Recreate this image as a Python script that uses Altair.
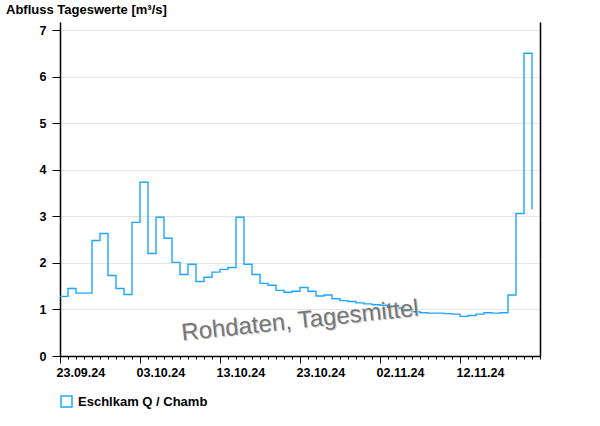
import altair as alt
import pandas as pd

# ---- data -------------------------------------------------------------
start_date = "2024-09-23"
series_name = "Eschlkam Q / Chamb"
values = [
    1.28, 1.45, 1.35, 1.35, 2.48, 2.63, 1.73, 1.45, 1.32, 2.87,
    3.73, 2.20, 2.98, 2.53, 2.01, 1.75, 1.97, 1.60, 1.69, 1.80,
    1.86, 1.90, 2.98, 1.97, 1.75, 1.56, 1.52, 1.41, 1.37, 1.39,
    1.47, 1.39, 1.29, 1.31, 1.23, 1.19, 1.17, 1.14, 1.12, 1.10,
    1.09, 1.07, 1.03, 0.99, 0.95, 0.93, 0.92, 0.92, 0.91, 0.90,
    0.85, 0.87, 0.90, 0.93, 0.92, 0.93, 1.31, 3.06, 6.50, 3.15,
]
dates = [d.strftime("%Y-%m-%d") for d in pd.date_range(start_date, periods=len(values), freq="D")]
x_domain = ["2024-09-23", "2024-11-22"]
major_ticks = ["2024-09-23", "2024-10-03", "2024-10-13", "2024-10-23", "2024-11-02", "2024-11-12"]
y_ticks = [0, 1, 2, 3, 4, 5, 6, 7]
y_max = 7.172
title_text = "Abfluss Tageswerte [m³/s]"
watermark_text = ["Rohdaten, Tagesmittel"]
watermark_date = ["2024-10-23"]
watermark_value = [0.75]

df = pd.DataFrame({"date": dates, "value": values, "series": series_name})
wm = pd.DataFrame({"date": watermark_date, "value": watermark_value, "text": watermark_text})

FONT = "Liberation Sans"
BLUE = "#1EA6FF"


def dt(s):
    y, m, d = (int(p) for p in s.split("-"))
    return alt.DateTime(year=y, month=m, date=d, utc=True)


xscale = alt.Scale(type="utc", domain=[dt(s) for s in x_domain], nice=False)
yscale = alt.Scale(domain=[0, y_max], nice=False, zero=True)

line = alt.Chart(df).mark_line(interpolate="step-after", strokeWidth=1.4).encode(
    x=alt.X(
        "date:T",
        scale=xscale,
        title=None,
        axis=alt.Axis(
            orient="bottom",
            values=[dt(s) for s in major_ticks],
            format="%d.%m.%y",
            grid=False,
            tickSize=7,
            tickColor="black",
            tickWidth=1,
            domainColor="black",
            domainWidth=1.5,
            labelFont=FONT,
            labelFontSize=12.5,
            labelFontWeight="bold",
            labelColor="black",
            labelPadding=3,
            labelAlign="left",
            labelOffset=-4,
            labelFlush=False,
            labelOverlap=False,
        ),
    ),
    y=alt.Y(
        "value:Q",
        scale=yscale,
        title=None,
        axis=alt.Axis(
            orient="left",
            values=y_ticks,
            format="d",
            grid=True,
            gridColor="#E6E6E6",
            gridWidth=1,
            tickSize=8,
            tickColor="black",
            tickWidth=1,
            domainColor="black",
            domainWidth=1.5,
            labelFont=FONT,
            labelFontSize=12.5,
            labelFontWeight="bold",
            labelColor="black",
            labelPadding=6,
        ),
    ),
    color=alt.Color(
        "series:N",
        scale=alt.Scale(range=[BLUE]),
        legend=alt.Legend(
            title=None,
            orient="none",
            legendX=0,
            legendY=373,
            symbolType="square",
            symbolSize=121,
            symbolStrokeWidth=1.5,
            symbolFillColor="white",
            labelFont=FONT,
            labelFontSize=13,
            labelFontWeight="bold",
            labelColor="black",
            labelOffset=5,
            padding=0,
        ),
    ),
)

minor = alt.Chart(df).mark_line(strokeOpacity=0).encode(
    x=alt.X(
        "date:T",
        scale=xscale,
        title=None,
        axis=alt.Axis(
            orient="bottom",
            tickCount={"interval": "day", "step": 1},
            labels=False,
            grid=False,
            domain=False,
            tickSize=3,
            tickColor="black",
            tickWidth=1,
        ),
    ),
    y=alt.Y(
        "value:Q",
        scale=yscale,
        title=None,
        axis=alt.Axis(
            orient="right",
            labels=False,
            ticks=False,
            grid=False,
            domainColor="black",
            domainWidth=1.5,
        ),
    ),
)

wm_shadow = alt.Chart(wm).mark_text(
    font=FONT, fontSize=24, angle=354, color="#D0D0D0", dx=1, dy=1,
    align="center", baseline="middle",
).encode(
    x=alt.X("date:T", scale=xscale, axis=None),
    y=alt.Y("value:Q", scale=yscale, axis=None),
    text="text:N",
)
wm_text = alt.Chart(wm).mark_text(
    font=FONT, fontSize=24, angle=354, color="#777777",
    align="center", baseline="middle",
).encode(
    x=alt.X("date:T", scale=xscale, axis=None),
    y=alt.Y("value:Q", scale=yscale, axis=None),
    text="text:N",
)

chart = (
    alt.layer(line, minor, wm_shadow, wm_text)
    .resolve_axis(x="independent", y="independent")
    .properties(
        width=480,
        height=334,
        autosize=alt.AutoSizeParams(type="none"),
        padding={"left": 60, "top": 22, "right": 60, "bottom": 70},
        title=alt.TitleParams(
            text=title_text,
            anchor="start",
            frame="group",
            font=FONT,
            fontSize=13,
            fontWeight="bold",
            color="black",
            dx=-54,
            offset=5,
        ),
        background="white",
    )
    .configure_view(stroke=None)
)

chart.save("out.html", embed_options={"renderer": "svg", "actions": False})
